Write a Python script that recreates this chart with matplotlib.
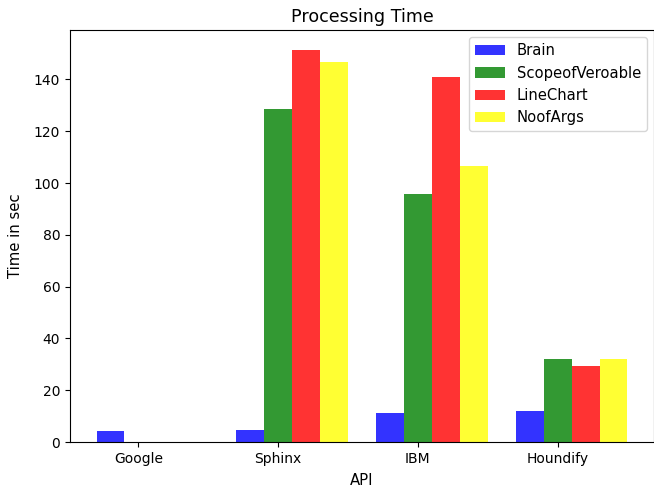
import matplotlib
matplotlib.use('Agg')
import matplotlib.pyplot as plt
import numpy as np

# valores (segundos)
apis = ['Google', 'Sphinx', 'IBM', 'Houndify']
brain = [4.1, 4.6, 11.1, 11.9]
scope_of_variable = [0, 128.4, 95.9, 32.0]
line_chart = [0, 151.5, 141.1, 29.3]
no_of_args = [0, 146.6, 106.7, 32.0]

series_names = ['Brain', 'ScopeofVeroable', 'LineChart', 'NoofArgs']
series_colors = ['b', 'g', 'r', 'yellow']

fig = plt.figure(figsize=(6.54, 4.88), dpi=100)
ax = fig.add_axes([70 / 654, 46 / 488, 584 / 654, 412 / 488])

index = np.arange(len(apis))
bar_width = 0.2
opacity = 0.8

for i, (vals, name, col) in enumerate(zip(
        [brain, scope_of_variable, line_chart, no_of_args], series_names, series_colors)):
    ax.bar(index + i * bar_width, vals, bar_width,
           alpha=opacity, color=col, label=name)

ax.set_xlabel('API', fontsize=10.7, labelpad=5)
ax.set_ylabel('Time in sec', fontsize=10.7, labelpad=8)
ax.set_title('Processing Time', fontsize=12.6)
ax.set_xticks(index + bar_width)
ax.set_xticklabels(apis)
ax.legend(loc='upper right', fontsize=10.6)

fig.savefig('out.png', dpi=100)
